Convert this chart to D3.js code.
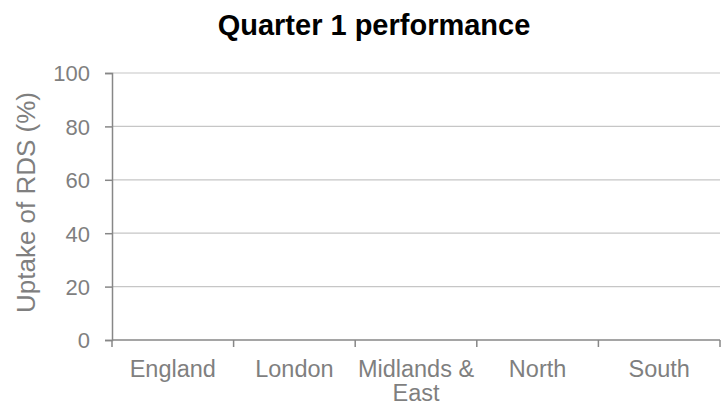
<!DOCTYPE html>
<html>
<head>
<meta charset="utf-8">
<script src="https://cdn.jsdelivr.net/npm/d3@7"></script>
<style>
  body { margin: 0; background: #fff; }
  text { font-family: "Liberation Sans", Arial, sans-serif; }
</style>
</head>
<body>
<svg id="chart" width="726" height="408"></svg>
<script>
// data (no bars are shown, so every value is empty)
const regions = ['England', 'London', 'Midlands & East', 'North', 'South']
const uptake = [null, null, null, null, null]
const yTicks = [0, 20, 40, 60, 80, 100]

const width = 726
const height = 408
const margin = { top: 73, right: 6, bottom: 68, left: 112 }

const svg = d3.select('#chart')

const x = d3.scaleBand()
    .domain(regions)
    .range([margin.left, width - margin.right])

const y = d3.scaleLinear()
    .domain([0, 100])
    .range([height - margin.bottom, margin.top])

// gridlines
svg.append('g')
    .selectAll('line')
    .data(yTicks.filter(d => d > 0))
    .join('line')
    .attr('x1', margin.left)
    .attr('x2', width - margin.right)
    .attr('y1', d => y(d))
    .attr('y2', d => y(d))
    .attr('stroke', '#c6c6c6')
    .attr('stroke-width', 1.2)

// bars (none have values)
svg.append('g')
    .selectAll('rect')
    .data(regions.map((r, i) => ({ r, v: uptake[i] })).filter(d => d.v != null))
    .join('rect')
    .attr('x', d => x(d.r) + x.bandwidth() * 0.2)
    .attr('width', x.bandwidth() * 0.6)
    .attr('y', d => y(d.v))
    .attr('height', d => y(0) - y(d.v))
    .attr('fill', '#4f81bd')

// y axis
const yAxis = svg.append('g')
    .attr('transform', `translate(${margin.left},0)`)
    .call(d3.axisLeft(y).tickValues(yTicks).tickSize(7).tickPadding(15))
yAxis.select('.domain').attr('stroke', '#878787').attr('stroke-width', 1.5)
yAxis.selectAll('.tick line').attr('stroke', '#878787').attr('stroke-width', 1.5)
yAxis.selectAll('.tick text')
    .attr('fill', '#7f7f7f')
    .attr('font-size', 22)
    .attr('dy', '0.36em')

// x axis, ticks sit on the category boundaries
const xAxis = svg.append('g')
    .attr('transform', `translate(0,${y(0)})`)
xAxis.append('line')
    .attr('x1', margin.left)
    .attr('x2', width - margin.right)
    .attr('stroke', '#878787')
    .attr('stroke-width', 1.5)
xAxis.selectAll('.bound')
    .data(regions.map(r => x(r)).concat([x(regions[regions.length - 1]) + x.bandwidth()]))
    .join('line')
    .classed('bound', true)
    .attr('x1', d => d)
    .attr('x2', d => d)
    .attr('y1', 0)
    .attr('y2', 7)
    .attr('stroke', '#878787')
    .attr('stroke-width', 1.5)

const labelLines = { 'Midlands & East': ['Midlands &', 'East'] }
xAxis.selectAll('.lab')
    .data(regions)
    .join('text')
    .classed('lab', true)
    .attr('x', d => x(d) + x.bandwidth() / 2)
    .attr('y', 37)
    .attr('text-anchor', 'middle')
    .attr('fill', '#7f7f7f')
    .attr('font-size', 23.5)
    .selectAll('tspan')
    .data(d => labelLines[d] || [d])
    .join('tspan')
    .attr('x', function () { return d3.select(this.parentNode).attr('x') })
    .attr('dy', (d, i) => i === 0 ? 0 : 24)
    .text(d => d)

// axis title
svg.append('text')
    .attr('transform', `translate(35,${(y(0) + y(100)) / 2 - 4}) rotate(-90)`)
    .attr('text-anchor', 'middle')
    .attr('fill', '#7f7f7f')
    .attr('font-size', 26)
    .text('Uptake of RDS (%)')

// chart title
svg.append('text')
    .attr('x', 374)
    .attr('y', 35)
    .attr('text-anchor', 'middle')
    .attr('font-weight', 'bold')
    .attr('font-size', 29)
    .attr('fill', '#000')
    .text('Quarter 1 performance')
</script>
</body>
</html>
